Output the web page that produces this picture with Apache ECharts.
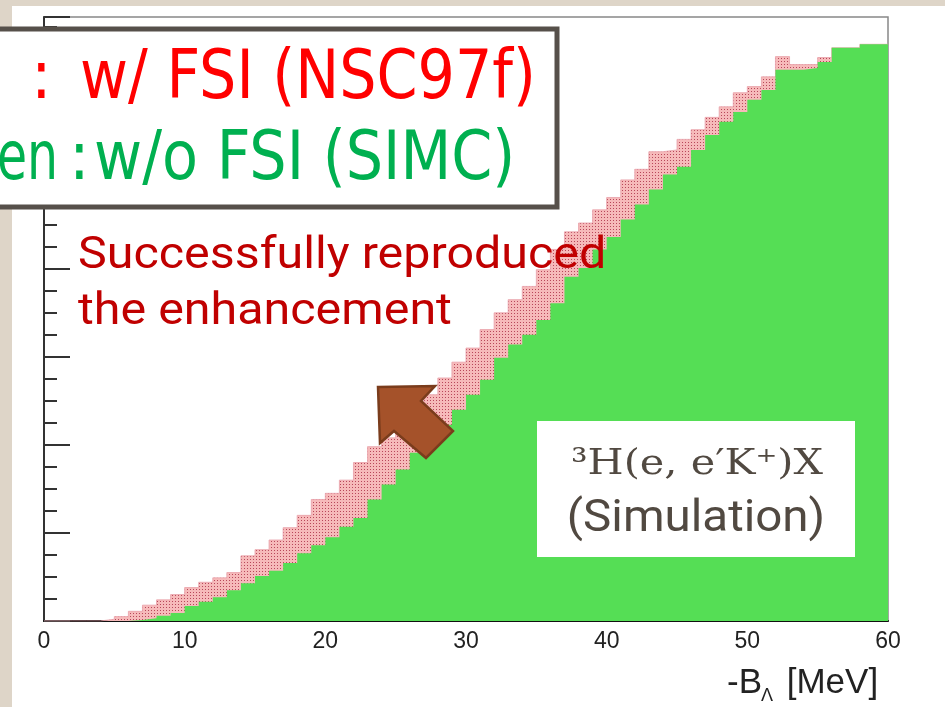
<!DOCTYPE html>
<html>
<head>
<meta charset="utf-8">
<script src="https://cdn.jsdelivr.net/npm/echarts@6/dist/echarts.min.js"></script>
<style>
html,body{margin:0;padding:0;background:#ded5c8;}
#chart{width:945px;height:707px;}
</style>
</head>
<body>
<div id="chart"></div>
<script>
// Bin lower edges [MeV], 1 MeV wide bins
const binLow = [0,1,2,3,4,5,6,7,8,9,10,11,12,13,14,15,16,17,18,19,20,21,22,23,24,25,26,27,28,29,
  30,31,32,33,34,35,36,37,38,39,40,41,42,43,44,45,46,47,48,49,50,51,52,53,54,55,56,57,58,59];
const binHighEnd = 60;
// w/o FSI (SIMC) - green
const woFSI = [0,0,0,0,0,0,1,3,6,9,17,22,27,35,43,51,57,66,77,86,95,107,117,138,155,172,191,206,223,240,
  257,274,299,314,325,342,361,391,401,422,436,456,473,490,507,516,535,552,567,578,592,603,626,626,628,635,651,651,655,655];
// w/ FSI (NSC97f) - red hatched
const wFSI = [0,0,0,0,2,5,11,18,24,30,38,44,49,55,74,81,92,106,120,138,145,160,180,198,208,223,240,257,276,294,
  310,331,350,365,380,399,422,442,452,467,481,501,513,533,535,547,558,572,584,600,607,618,641,632,632,640,651,651,655,655];
const xTicks = [0,10,20,30,40,50,60];

function stepData(vals){
  const d = binLow.map((x,i)=>[x, vals[i]]);
  d.push([binHighEnd, vals[vals.length-1]]);
  return d;
}
// hatch pattern
const pc = document.createElement('canvas');
pc.width = 3; pc.height = 3;
const g = pc.getContext('2d');
g.fillStyle = '#f6baba'; g.fillRect(0,0,3,3);
g.fillStyle = '#b8475a'; g.fillRect(1,1,1,1);

const chart = echarts.init(document.getElementById('chart'));
function txt(x,y,text,font,fill,align,scaleX){
  return {type:'text', x:x, y:y, scaleX:scaleX||1, z:100,
    style:{x:0,y:0,text:text,font:font,fill:fill,align:align||'left',verticalAlign:'middle',
      textAlign:align||'left',textVerticalAlign:'middle'}};
}
const LF = "68px 'DejaVu Sans Condensed','DejaVu Sans',sans-serif";
const AF = "44px Roboto, sans-serif";
const option = {
  animation:false,
  backgroundColor:'transparent',
  grid:{left:44,right:57,top:17,bottom:86,show:true,backgroundColor:'#ffffff',borderColor:'#888',borderWidth:1.5},
  xAxis:{type:'value',min:0,max:60,interval:10,
    axisLine:{show:true,lineStyle:{color:'#111',width:2}},
    axisTick:{show:false},splitLine:{show:false},
    axisLabel:{fontFamily:"'Liberation Sans',Arial,sans-serif",fontSize:23,color:'#222',margin:9,
      customValues:xTicks}
  },
  yAxis:{type:'value',min:0,max:686,interval:100,
    axisLine:{show:true,lineStyle:{color:'#333',width:2}},
    axisTick:{show:true,inside:true,length:26,lineStyle:{color:'#333',width:2}},
    minorTick:{show:true,splitNumber:4,length:13,lineStyle:{color:'#333',width:2}},
    axisLabel:{show:false},splitLine:{show:false}
  },
  series:[
    {type:'line',step:'end',data:stepData(wFSI),symbol:'none',silent:true,
      lineStyle:{width:0.8,color:'#e8a0a8'},areaStyle:{color:{image:pc,repeat:'repeat'},opacity:1},z:2},
    {type:'line',step:'end',data:stepData(woFSI),symbol:'none',silent:true,
      lineStyle:{width:0},areaStyle:{color:'#55de55',opacity:1},z:3}
  ],
  graphic:[
    {type:'rect',z:-10,shape:{x:0,y:0,width:945,height:707},style:{fill:'#ded5c8'},silent:true},
    {type:'rect',z:-9,shape:{x:12,y:6,width:940,height:710},style:{fill:'#ffffff'},silent:true},
    // legend box
    {type:'rect',z:90,shape:{x:-10,y:29,width:567,height:178},style:{fill:'#ffffff',stroke:'#56504a',lineWidth:5}},
    txt(31,80,':',LF,'#ff0000','left'),
    txt(80,80,'w/ FSI (NSC97f)',LF,'#ff0000','left',0.96),
    txt(-3,161,'en',LF,'#00b050','left',0.8),
    txt(69,161,':',LF,'#00b050','left'),
    txt(94,161,'w/o FSI (SIMC)',LF,'#00b050','left',0.962),
    // annotation
    txt(78,257,'Successfully reproduced',AF,'#c00000','left',1.1),
    txt(78,313,'the enhancement',AF,'#c00000','left',1.1),
    // arrow
    {type:'polygon',z:95,shape:{points:[[378,387],[435,386],[421,401],[453,431],[426,458],[394,431],[380,443]]},
      style:{fill:'#a5522a',stroke:'#7a3c1c',lineWidth:2.5}},
    // formula box
    {type:'rect',z:90,shape:{x:537,y:421,width:318,height:136},style:{fill:'#ffffff'}},
    txt(697,465,'³H(e, e′K⁺)X',"36px 'DejaVu Serif', serif",'#514941','center',1.15),
    txt(696,520,'(Simulation)',"44px Roboto, sans-serif",'#514941','center',1.08),
    // axis name
    txt(727,683,'-B',"35px 'Liberation Sans', Arial, sans-serif",'#222','left'),
    txt(761,696,'Λ',"18px 'Liberation Sans', Arial, sans-serif",'#222','left'),
    txt(777,683,' [MeV]',"35px 'Liberation Sans', Arial, sans-serif",'#222','left')
  ]
};
chart.setOption(option);
</script>
</body>
</html>
